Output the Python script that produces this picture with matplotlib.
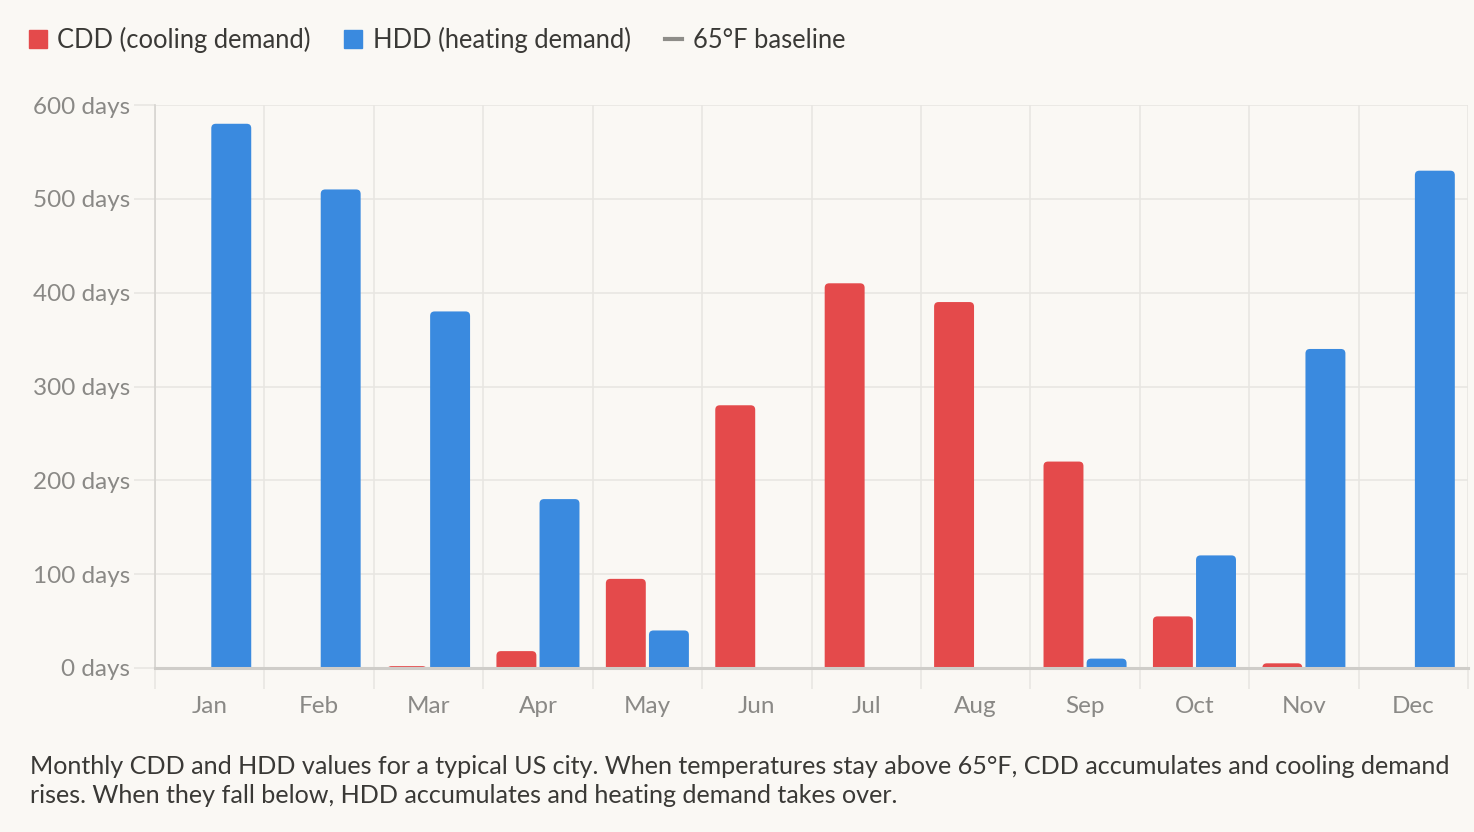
import matplotlib
matplotlib.use("Agg")
import matplotlib.pyplot as plt
from matplotlib.patches import Patch, FancyBboxPatch
from matplotlib.lines import Line2D
import numpy as np

# Monthly degree days
months = ["Jan", "Feb", "Mar", "Apr", "May", "Jun", "Jul", "Aug", "Sep", "Oct", "Nov", "Dec"]
cdd = [0, 0, 2, 18, 95, 280, 410, 390, 220, 55, 5, 0]
hdd = [580, 510, 380, 180, 40, 0, 0, 0, 10, 120, 340, 530]
yticks = [0, 100, 200, 300, 400, 500, 600]

red = "#E44A4B"
blue = "#3A8ADF"
bg = "#FAF8F4"
grid = "#E8E6E2"
tickc = "#8A8986"

plt.rcParams['font.family'] = ['Lato', 'DejaVu Sans']

fig = plt.figure(figsize=(14.74, 8.32), dpi=100, facecolor=bg)
ax = fig.add_axes([155 / 1474, 1 - 668 / 832, (1468 - 155) / 1474, (668 - 105) / 832])
ax.set_facecolor(bg)

x = np.arange(len(months))
w = 0.365
off = 0.197
bars_c = ax.bar(x - off, cdd, w, color=red, zorder=3)
bars_h = ax.bar(x + off, hdd, w, color=blue, zorder=3)

ax.set_xlim(-0.5, 11.5)
ax.set_ylim(0, 600)

# swap plain rectangles for ones with rounded tops
rpx = 4.5
xpx = ax.get_position().width * 1474 / 12.0
ypx = ax.get_position().height * 832 / 600.0
r = rpx / xpx
aspect = xpx / ypx
for bars in (bars_c, bars_h):
    for b in bars:
        h = b.get_height()
        if h <= 0:
            b.set_visible(False)
            continue
        ext = r * aspect
        p = FancyBboxPatch((b.get_x(), -ext), b.get_width(), h + ext,
                           boxstyle="round,pad=0,rounding_size=%f" % r,
                           mutation_aspect=aspect, fc=b.get_facecolor(),
                           ec="none", zorder=3)
        ax.add_patch(p)
        b.set_visible(False)

# axes styling
for s in ["top", "right", "bottom"]:
    ax.spines[s].set_visible(False)
ax.spines["left"].set_color("#D6D4D0")
ax.spines["left"].set_linewidth(1.2)

ax.set_yticks(yticks)
ax.set_yticklabels(["%d days" % v for v in yticks])
ax.set_xticks(x)
ax.set_xticklabels(months)
ax.set_xticks(np.arange(-0.5, 12, 1), minor=True)
ax.tick_params(axis="x", which="major", length=0, pad=20, labelsize=17.5, labelcolor=tickc)
ax.tick_params(axis="x", which="minor", length=15, color=grid, width=1.2)
ax.tick_params(axis="y", length=15, color=grid, width=1.2, pad=3, labelsize=17.5, labelcolor=tickc)
ax.grid(True, which="minor", axis="x", color=grid, lw=1.2, zorder=0)
ax.grid(True, which="major", axis="y", color=grid, lw=1.2, zorder=0)
ax.set_axisbelow(True)

# 65F baseline along zero
ax.axhline(0, color="#CFCDC9", lw=2.2, zorder=4, clip_on=False)

# legend
handles = [Patch(color=red, label="CDD (cooling demand)"),
           Patch(color=blue, label="HDD (heating demand)"),
           Line2D([0], [0], color="#8E8D89", lw=3, label="65°F baseline")]
leg = fig.legend(handles=handles, loc="upper left", bbox_to_anchor=(0.004, 0.995),
                 ncol=3, frameon=False, fontsize=18.4, handlelength=0.7, handleheight=0.7,
                 handletextpad=0.4, columnspacing=1.33, labelcolor="#3A3936")

caption = ("Monthly CDD and HDD values for a typical US city. When temperatures stay above 65°F, "
           "CDD accumulates and cooling demand\nrises. When they fall below, HDD accumulates "
           "and heating demand takes over.")
fig.text(30 / 1474, 1 - 755 / 832, caption, fontsize=18.1, color="#3A3936",
         va="top", ha="left", linespacing=1.33)

fig.savefig("out.png", dpi=100, facecolor=bg)
